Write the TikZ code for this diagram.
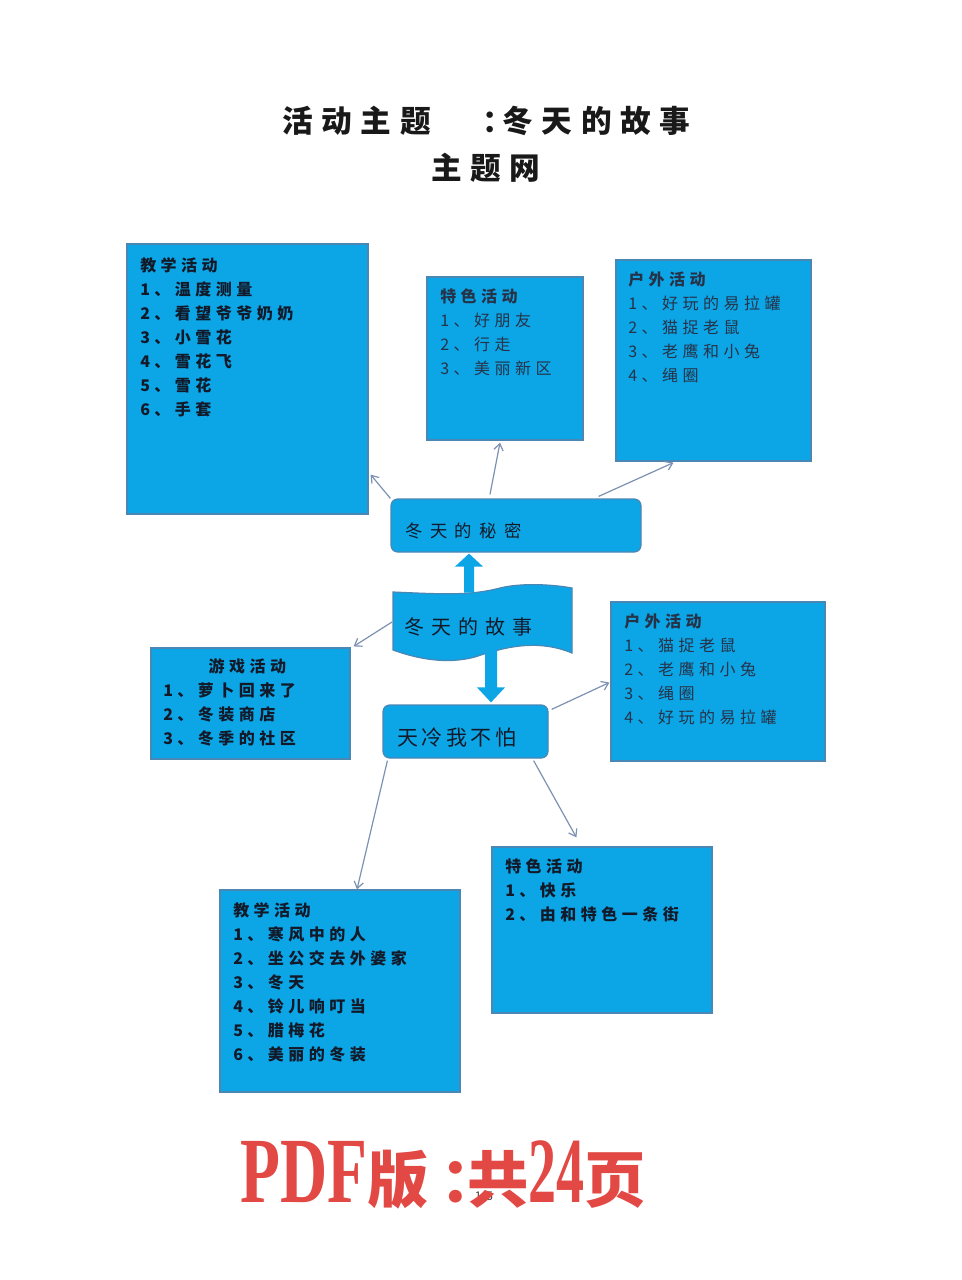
\documentclass[tikz,border=0pt]{standalone}
\usepackage{fontspec}
\setmainfont{Noto Sans CJK SC}
\newfontfamily\cjk{Noto Sans CJK SC}
\newfontfamily\boxfont[LetterSpace=28]{Noto Sans CJK SC}
\newfontfamily\dfont[LetterSpace=43]{Noto Sans CJK SC}
\newfontfamily\efont[LetterSpace=35]{Noto Sans CJK SC}
\newfontfamily\ffont[LetterSpace=17]{Noto Sans CJK SC}
\newfontfamily\titlefont[LetterSpace=28]{Noto Sans CJK SC}
\newfontfamily\latserif{Liberation Serif}
\usetikzlibrary{arrows.meta,calc}
\definecolor{boxblue}{RGB}{12,166,230}
\definecolor{boxedge}{RGB}{75,135,180}
\definecolor{linegray}{RGB}{125,145,178}
\definecolor{txt}{RGB}{18,26,42}
\definecolor{txtlight}{RGB}{38,50,72}
\definecolor{redtxt}{RGB}{226,72,68}
\definecolor{titletxt}{RGB}{25,25,25}
\begin{document}
\begin{tikzpicture}[x=0.75pt,y=-0.75pt,
  box/.style={draw=boxedge, line width=0.9pt, fill=boxblue, inner sep=0pt},
  rbox/.style={box, rounded corners=5pt},
  listtext/.style={anchor=north west, inner sep=0pt, align=left, text=txt,
    font=\boxfont\bfseries\fontsize{12}{18}\selectfont},
  listlight/.style={anchor=north west, inner sep=0pt, align=left, text=txtlight,
    font=\boxfont\fontsize{12}{18}\selectfont},
  conn/.style={draw=linegray, line width=0.9pt, -{Straight Barb[length=5pt,width=7pt]}},
  blockarrow/.style={fill=boxblue, draw=none},
  titlestyle/.style={inner sep=0pt, text=titletxt, font=\titlefont\bfseries\fontsize{23}{28}\selectfont}]

\useasboundingbox[fill=white] (0,0) rectangle (961,1280);

% title
\node[titlestyle, anchor=west] (t1) at (282,121) {活动主题\hspace{39pt}：\kern-8pt 冬天的故事};
\node[titlestyle] (t2) at (486,168) {主题网};

% boxes
\node[box, minimum width=180.75pt, minimum height=202.5pt] (A) at (247.5,379) {};
\node[box, minimum width=117pt, minimum height=122.25pt] (B) at (505,358.5) {};
\node[box, minimum width=146.25pt, minimum height=150.75pt] (C) at (713.5,360.5) {};
\node[rbox, minimum width=187.5pt, minimum height=39.75pt] (D) at (516,525.5) {};
\node[rbox, minimum width=123.75pt, minimum height=39.75pt] (F) at (465.5,731.5) {};
\node[box, minimum width=149.25pt, minimum height=83.25pt] (G) at (250.5,703.5) {};
\node[box, minimum width=160.5pt, minimum height=119.25pt] (H) at (718,681.5) {};
\node[box, minimum width=180pt, minimum height=151.5pt] (I) at (340,991) {};
\node[box, minimum width=165pt, minimum height=124.5pt] (J) at (602,930) {};

% wavy centre shape
\path[box] (393,592) .. controls (440,594) and (470,596) .. (500,588)
  .. controls (520,583) and (550,584) .. (572,588) -- (572,653)
  .. controls (540,640) and (510,645) .. (475,657)
  .. controls (445,665) and (415,658) .. (393,650) -- cycle;

% block arrows
\coordinate (upTip) at ($(D.south)+(-47,1)$);
\fill[blockarrow] (upTip) -- ++(14,13) -- ++(-9,0) -- ++(0,26) -- ++(-10,0) -- ++(0,-26) -- ++(-9,0) -- cycle;
\coordinate (dnTip) at ($(F.north)+(25.5,-2)$);
\fill[blockarrow] (dnTip) -- ++(14,-15) -- ++(-8,0) -- ++(0,-42) -- ++(-12,0) -- ++(0,42) -- ++(-8,0) -- cycle;

% texts in boxes
\node[listtext] (At) at (140,257) {教学活动\\1、温度测量\\2、看望爷爷奶奶\\3、小雪花\\4、雪花飞\\5、雪花\\6、手套};
\node[listlight] (Bt) at (440,288) {\textbf{特色活动}\\1、好朋友\\2、行走\\3、美丽新区};
\node[listlight] (Ct) at (628,271) {\textbf{户外活动}\\1、好玩的易拉罐\\2、猫捉老鼠\\3、老鹰和小兔\\4、绳圈};
\node[anchor=west, inner sep=0pt, text=txt, font=\dfont\fontsize{13}{16}\selectfont] (Dt) at (405,531) {冬天的秘密};
\node[anchor=west, inner sep=0pt, text=txt, font=\efont\fontsize{15}{18}\selectfont] (E) at (404,627) {冬天的故事};
\node[anchor=west, inner sep=0pt, text=txt, font=\ffont\fontsize{15.75}{18}\selectfont] (Ft) at (397,738) {天冷我不怕};
\node[listtext] (Gt) at (163,658) {\hspace*{34pt}游戏活动\\1、萝卜回来了\\2、冬装商店\\3、冬季的社区};
\node[listlight] (Ht) at (624,613) {\textbf{户外活动}\\1、猫捉老鼠\\2、老鹰和小兔\\3、绳圈\\4、好玩的易拉罐};
\node[listtext] (It) at (233,902) {教学活动\\1、寒风中的人\\2、坐公交去外婆家\\3、冬天\\4、铃儿响叮当\\5、腊梅花\\6、美丽的冬装};
\node[listtext] (Jt) at (505,858) {特色活动\\1、快乐\\2、由和特色一条街};

% connectors
\draw[conn] (D.north west) -- ($(A.south east)+(2,-40)$);
\draw[conn] ($(D.north)+(-26,-4)$) -- ($(B.south)+(-5,2)$);
\draw[conn] ($(D.north east)+(-43,-2)$) -- ($(C.south)+(-40,1)$);
\draw[conn] ($(E.west)+(-12,-5)$) -- ($(G.north east)+(3,-1)$);
\draw[conn] ($(F.north east)+(3,5)$) -- ($(H.west)+(-1,1)$);
\draw[conn] ($(F.south west)+(5,2)$) -- ($(I.north)+(17,0)$);
\draw[conn] ($(F.south east)+(-15,2)$) -- ($(J.north west)+(85,-9)$);

% footer
\node[inner sep=0pt, text=black!75, font=\cjk\fontsize{9}{10}\selectfont] (pg) at (484,1197) {1/5};
\node[inner sep=0pt, text=redtxt, anchor=west] (red) at (240,1175)
  {\scalebox{0.7}[1]{\latserif\bfseries\fontsize{70}{70}\selectfont PDF}{\cjk\bfseries\fontsize{46}{50}\selectfont 版\kern9pt：\kern-26pt 共}\scalebox{0.6}[1]{\latserif\bfseries\fontsize{70}{70}\selectfont 24}{\cjk\bfseries\fontsize{46}{50}\selectfont 页}};
\end{tikzpicture}
\end{document}
